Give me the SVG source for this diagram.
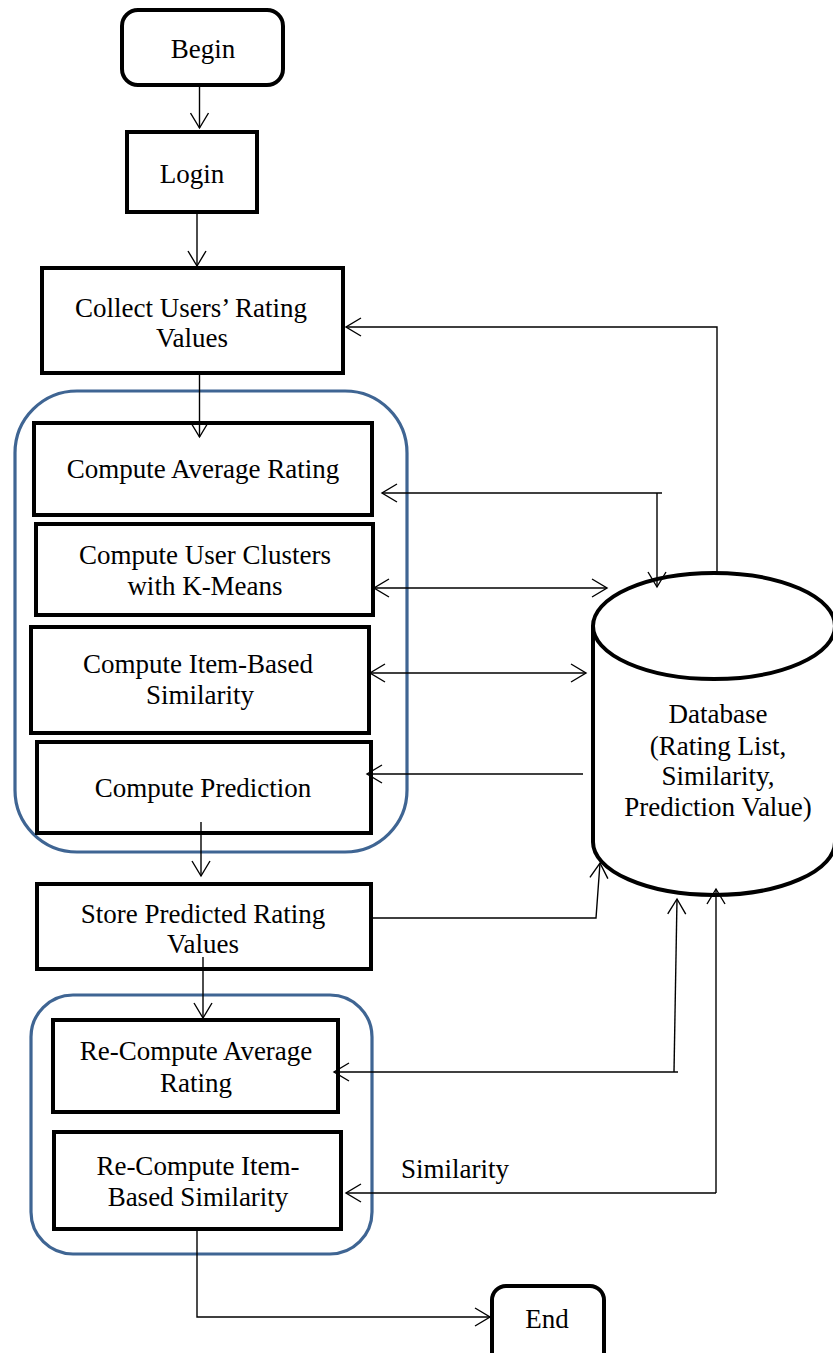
<svg xmlns="http://www.w3.org/2000/svg" width="833" height="1353" viewBox="0 0 833 1353">
  <style>
    .box { fill: #fff; stroke: #000; stroke-width: 4; }
    .grp { fill: none; stroke: #3f6593; stroke-width: 3.2; }
    .lbl { font-family: "Liberation Serif", "Times New Roman", serif; font-size: 27px; fill: #000; text-anchor: middle; }
    .wire { fill: none; stroke: #000; stroke-width: 1.4; }
  </style>
  <defs>
    <marker id="arrow" viewBox="0 0 18 20" refX="16" refY="10" markerWidth="18" markerHeight="20" markerUnits="userSpaceOnUse" orient="auto-start-reverse">
      <path d="M1,1 L16,10 L1,19" fill="none" stroke="#000" stroke-width="1.4"/>
    </marker>
  </defs>
  <rect width="833" height="1353" fill="#fff"/>

  <!-- grouping frames -->
  <g id="group-compute">
    <rect class="grp" x="15" y="391" width="392" height="461" rx="62"/>
  </g>
  <g id="group-recompute">
    <rect class="grp" x="31" y="995" width="341" height="259" rx="42"/>
  </g>

  <!-- nodes -->
  <g id="begin">
    <rect class="box" x="122" y="10" width="161" height="75" rx="16"/>
    <text class="lbl" x="203" y="58">Begin</text>
  </g>
  <g id="login">
    <rect class="box" x="127" y="132" width="130" height="80"/>
    <text class="lbl" x="192" y="183">Login</text>
  </g>
  <g id="collect">
    <rect class="box" x="42" y="268" width="301" height="105"/>
    <text class="lbl" x="191" y="317">Collect Users’ Rating</text>
    <text class="lbl" x="192" y="347">Values</text>
  </g>
  <g id="avg-rating">
    <rect class="box" x="34" y="423" width="338" height="92"/>
    <text class="lbl" x="203" y="478">Compute Average Rating</text>
  </g>
  <g id="clusters">
    <rect class="box" x="36" y="524" width="337" height="91"/>
    <text class="lbl" x="205" y="564">Compute User Clusters</text>
    <text class="lbl" x="205" y="595">with K-Means</text>
  </g>
  <g id="item-sim">
    <rect class="box" x="31" y="627" width="338" height="106"/>
    <text class="lbl" x="198" y="673">Compute Item-Based</text>
    <text class="lbl" x="200" y="704">Similarity</text>
  </g>
  <g id="prediction">
    <rect class="box" x="37" y="742" width="334" height="91"/>
    <text class="lbl" x="203" y="797">Compute Prediction</text>
  </g>
  <g id="store">
    <rect class="box" x="37" y="884" width="334" height="85"/>
    <text class="lbl" x="203" y="923">Store Predicted Rating</text>
    <text class="lbl" x="203" y="953">Values</text>
  </g>
  <g id="re-avg">
    <rect class="box" x="53" y="1020" width="285" height="92"/>
    <text class="lbl" x="196" y="1060">Re-Compute Average</text>
    <text class="lbl" x="196" y="1092">Rating</text>
  </g>
  <g id="re-sim">
    <rect class="box" x="54" y="1132" width="287" height="97"/>
    <text class="lbl" x="198" y="1175">Re-Compute Item-</text>
    <text class="lbl" x="198" y="1206">Based Similarity</text>
  </g>
  <g id="end">
    <rect class="box" x="492" y="1286" width="112" height="80" rx="14"/>
    <text class="lbl" x="547" y="1328">End</text>
  </g>
  <g id="database">
    <path class="box" d="M593,626 V842 A121,53 0 0 0 835,842 V626"/>
    <ellipse class="box" cx="714" cy="626" rx="121" ry="53"/>
    <text class="lbl" x="718" y="723">Database</text>
    <text class="lbl" x="718" y="755">(Rating List,</text>
    <text class="lbl" x="718" y="785">Similarity,</text>
    <text class="lbl" x="718" y="816">Prediction Value)</text>
  </g>

  <!-- connectors -->
  <g id="connectors">
    <path class="wire" d="M199.5,87 V128" marker-end="url(#arrow)"/>
    <path class="wire" d="M197,214 V266" marker-end="url(#arrow)"/>
    <path class="wire" d="M717,572 V327 H346" marker-end="url(#arrow)"/>
    <path class="wire" d="M199.5,375 V437" marker-end="url(#arrow)"/>
    <path class="wire" d="M662,493 H382" marker-end="url(#arrow)"/>
    <path class="wire" d="M657,493 V587" marker-end="url(#arrow)"/>
    <path class="wire" d="M374,588 H607" marker-start="url(#arrow)" marker-end="url(#arrow)"/>
    <path class="wire" d="M370,673 H586" marker-start="url(#arrow)" marker-end="url(#arrow)"/>
    <path class="wire" d="M583,774 H367" marker-end="url(#arrow)"/>
    <path class="wire" d="M201,822 V876" marker-end="url(#arrow)"/>
    <path class="wire" d="M373,918 H596 L600,863" marker-end="url(#arrow)"/>
    <path class="wire" d="M203,957 V1018" marker-end="url(#arrow)"/>
    <path class="wire" d="M678,1072 H334" marker-end="url(#arrow)"/>
    <path class="wire" d="M674,1072 L677,899" marker-end="url(#arrow)"/>
    <path class="wire" d="M716,1193 H346" marker-end="url(#arrow)"/>
    <path class="wire" d="M716,1193 V889" marker-end="url(#arrow)"/>
    <path class="wire" d="M197,1231 V1317 H490" marker-end="url(#arrow)"/>
    <text class="lbl" x="455" y="1178">Similarity</text>
  </g>
</svg>
